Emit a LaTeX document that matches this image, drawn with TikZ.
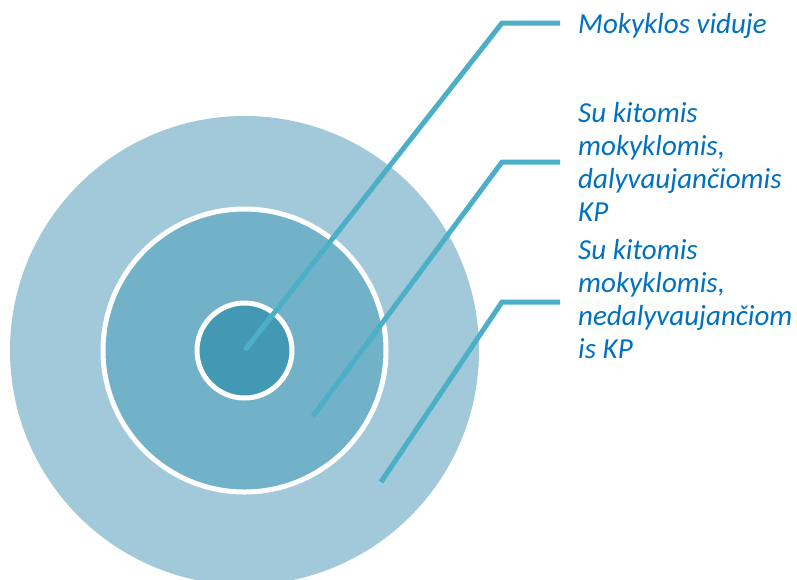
\documentclass[tikz,border=0pt]{standalone}
\usepackage{fontspec}
\setmainfont{Carlito}
\usetikzlibrary{positioning}
\definecolor{ringout}{HTML}{A2C9D9}
\definecolor{ringmid}{HTML}{71B2C8}
\definecolor{ringin}{HTML}{4399B3}
\definecolor{leader}{HTML}{4BAFC7}
\definecolor{tagtext}{HTML}{0070C0}

\begin{document}
\begin{tikzpicture}[x=1pt, y=-1pt,
    ring/.style={circle, draw=white, line width=5pt, inner sep=0pt},
    leadline/.style={draw=leader, line width=5pt},
    tag/.style={anchor=base west, align=left, inner sep=0pt, text=tagtext,
                font=\fontsize{29}{33}\selectfont\itshape}
]
    \useasboundingbox (0,0) rectangle (797,579);

    % trys apskritimai
    \node[ring, draw=none, fill=ringout, minimum size=469pt] (outer) at (244.5,350.5) {};
    \node[ring, fill=ringmid, minimum size=283pt] (middle) at (244.5,350.5) {};
    \node[ring, fill=ringin, minimum size=95pt] (inner) at (244.5,350.5) {};

    % uzrasai (bazine linija - paskutine eilute)
    \node[tag] (t1) at (578,33) {Mokyklos viduje};
    \node[tag] (t2) at (578,221) {Su kitomis\\mokyklomis,\\dalyvaujančiomis\\KP};
    \node[tag] (t3) at (578,358) {Su kitomis\\mokyklomis,\\nedalyvaujančiom\\is KP};

    % linijos
    \coordinate (p1) at (245,350);
    \coordinate (b1) at (502,23);
    \coordinate (e1) at (560,23);
    \coordinate (p2) at (313,416);
    \coordinate (b2) at (502,162);
    \coordinate (e2) at (560,162);
    \coordinate (p3) at (381,482);
    \coordinate (b3) at (502,302);
    \coordinate (e3) at (560,302);
    \draw[leadline] (p1) -- (b1) -- (e1);
    \draw[leadline] (p2) -- (b2) -- (e2);
    \draw[leadline] (p3) -- (b3) -- (e3);
\end{tikzpicture}
\end{document}
